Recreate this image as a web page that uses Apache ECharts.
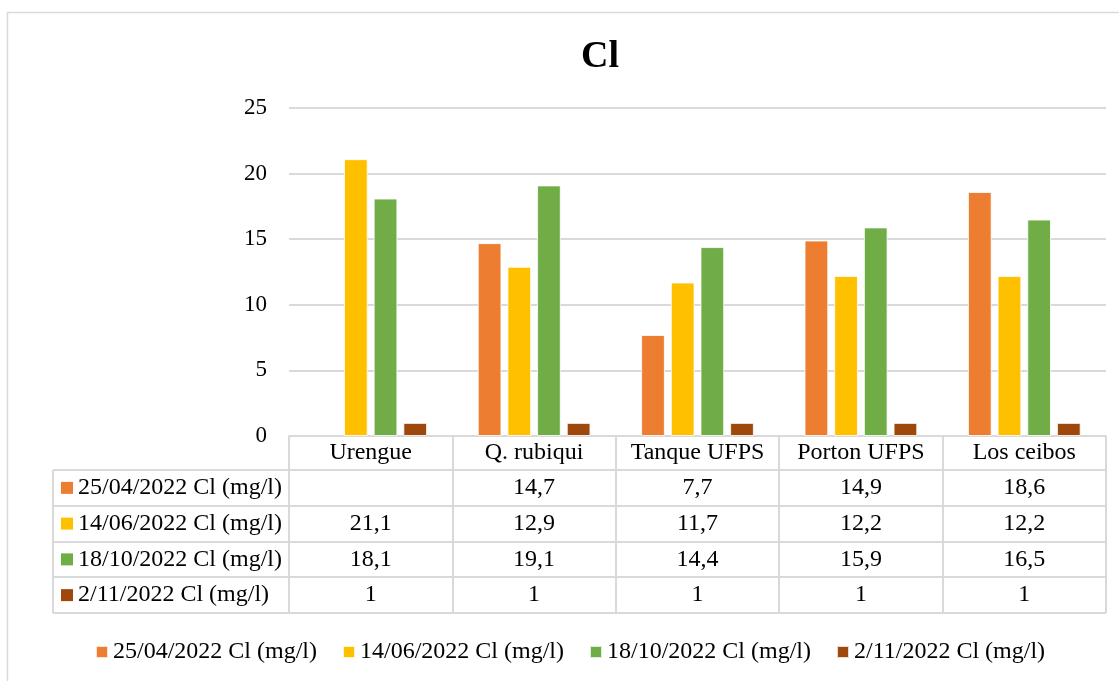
<!DOCTYPE html>
<html>
<head>
<meta charset="utf-8">
<title>Cl</title>
<script src="https://cdn.jsdelivr.net/npm/echarts@6/dist/echarts.min.js"></script>
<style>
  html, body { margin: 0; padding: 0; background: #fff; }
  #chart { width: 1119px; height: 681px; }
</style>
</head>
<body>
<div id="chart"></div>
<script>
// Sampling sites
const sites = ['Urengue', 'Q. rubiqui', 'Tanque UFPS', 'Porton UFPS', 'Los ceibos'];

// Chloride concentration per sampling date (mg/l)
const seriesNames = [
  '25/04/2022 Cl (mg/l)',
  '14/06/2022 Cl (mg/l)',
  '18/10/2022 Cl (mg/l)',
  '2/11/2022 Cl (mg/l)'
];
const apr25 = [null, 14.7, 7.7, 14.9, 18.6];
const jun14 = [21.1, 12.9, 11.7, 12.2, 12.2];
const oct18 = [18.1, 19.1, 14.4, 15.9, 16.5];
const nov02 = [1, 1, 1, 1, 1];
const seriesValues = [apr25, jun14, oct18, nov02];

const colors = ['#ED7D31', '#FFC000', '#70AD47', '#9E480E'];

// Value axis ticks
const yMin = 0, yMax = 25, yStep = 5;

const FONT = '"Liberation Serif", "Times New Roman", serif';
const LINE = '#D9D9D9';
const FS = 24;

// Data table geometry below the plot
const headerH = 34;
const rowH = 35.75;
const tableLeft = 53;

const chart = echarts.init(document.getElementById('chart'), null, { renderer: 'canvas' });

const option = {
  animation: false,
  backgroundColor: '#fff',
  color: colors,
  title: {
    text: 'Cl',
    left: 576,
    top: 33,
    textStyle: { fontFamily: FONT, fontSize: 38, fontWeight: 'bold', color: '#000' }
  },
  legend: {
    data: seriesNames,
    left: 90,
    top: 635,
    icon: 'rect',
    itemWidth: 12,
    itemHeight: 12,
    itemGap: 25,
    textStyle: { fontFamily: FONT, fontSize: FS, color: '#000' }
  },
  grid: { left: 289, right: 13, top: 108, bottom: 245, containLabel: false },
  xAxis: {
    type: 'category',
    data: sites,
    axisLine: { show: true, lineStyle: { color: LINE, width: 2 } },
    axisTick: {
      show: true,
      interval: 0,
      inside: false,
      length: headerH + rowH * 4,
      lineStyle: { color: LINE, width: 2 }
    },
    axisLabel: { interval: 0, fontFamily: FONT, fontSize: FS, color: '#000', margin: 5 },
    splitLine: { show: false }
  },
  yAxis: {
    type: 'value',
    min: yMin,
    max: yMax,
    interval: yStep,
    axisLine: { show: false },
    axisTick: { show: false },
    axisLabel: { fontFamily: FONT, fontSize: 23, color: '#000', margin: 22 },
    splitLine: { lineStyle: { color: LINE, width: 2 } }
  },
  series: seriesNames.map((name, i) => ({
    name,
    type: 'bar',
    data: seriesValues[i],
    barCategoryGap: '31%',
    barGap: '25%',
    itemStyle: { color: colors[i], borderColor: 'rgba(255,255,255,0.8)', borderWidth: 1 }
  }))
};

chart.setOption(option);

// Build the data table under the axis from the same arrays
function fmt(v) {
  return v == null ? '' : String(v).replace('.', ',');
}

function buildTable() {
  const axisY = chart.convertToPixel({ yAxisIndex: 0 }, yMin);
  const c0 = chart.convertToPixel({ xAxisIndex: 0 }, 0);
  const c1 = chart.convertToPixel({ xAxisIndex: 0 }, 1);
  const band = c1 - c0;
  const plotLeft = c0 - band / 2;
  const plotRight = plotLeft + band * sites.length;
  const els = [];

  // outer chart frame
  els.push({
    type: 'rect',
    shape: { x: 7.5, y: 12.5, width: 1200, height: 800 },
    style: { fill: null, stroke: LINE, lineWidth: 1.5 },
    silent: true
  });

  // horizontal rules of the table
  for (let r = 0; r <= seriesNames.length; r++) {
    const y = Math.round(axisY + headerH + r * rowH);
    els.push({
      type: 'line',
      shape: { x1: tableLeft, y1: y, x2: plotRight, y2: y },
      style: { stroke: LINE, lineWidth: 2 },
      silent: true
    });
  }
  // left edge of the series-name column
  els.push({
    type: 'line',
    shape: {
      x1: tableLeft, y1: Math.round(axisY + headerH),
      x2: tableLeft, y2: Math.round(axisY + headerH + rowH * seriesNames.length)
    },
    style: { stroke: LINE, lineWidth: 2 },
    silent: true
  });

  seriesNames.forEach((name, r) => {
    const cy = axisY + headerH + rowH * (r + 0.5);
    // legend key in row header
    els.push({
      type: 'rect',
      shape: { x: 61, y: cy - 6, width: 12, height: 12 },
      style: { fill: colors[r] },
      silent: true
    });
    els.push({
      type: 'text',
      x: 78,
      y: cy,
      style: {
        text: name, fontFamily: FONT, fontSize: FS, fill: '#000',
        align: 'left', verticalAlign: 'middle'
      },
      silent: true
    });
    // values per site
    seriesValues[r].forEach((v, c) => {
      els.push({
        type: 'text',
        x: chart.convertToPixel({ xAxisIndex: 0 }, c),
        y: cy,
        style: {
          text: fmt(v), fontFamily: FONT, fontSize: FS, fill: '#000',
          align: 'center', verticalAlign: 'middle'
        },
        silent: true
      });
    });
  });

  chart.setOption({ graphic: { elements: els } });
}

buildTable();
</script>
</body>
</html>
